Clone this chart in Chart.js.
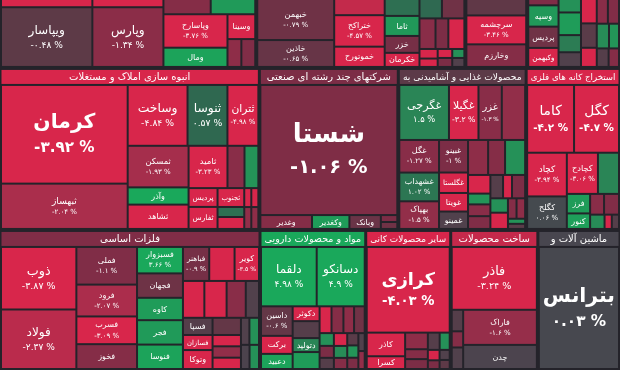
<!DOCTYPE html>
<html lang="fa">
<head>
<meta charset="utf-8">
<title>نقشه بازار</title>
<script src="https://cdn.jsdelivr.net/npm/chart.js@4.4.1/dist/chart.umd.min.js"></script>
<style>
  html, body { margin: 0; padding: 0; background: #24232a; }
  #wrap { width: 620px; height: 370px; }
</style>
</head>
<body>
<div id="wrap"><canvas id="marketMap" width="620" height="370"></canvas></div>
<script>
// sectors (top band is cropped, its headers are not visible)
const sectorNames = ['بانکها و موسسات اعتباری', 'خودرو و ساخت قطعات', 'سیمان، آهک و گچ', 'سرمایه گذاریها',
  'انبوه سازی املاک و مستغلات', 'شرکتهای چند رشته ای صنعتی', 'محصولات غذایی و آشامیدنی به', 'استخراج کانه های فلزی',
  'فلزات اساسی', 'مواد و محصولات دارویی', 'سایر محصولات کانی', 'ساخت محصولات', 'ماشین آلات و'];
const sectorChange = [-1.6, -1.9, -2.0, 0.0, -3.2, -1.0, -0.45, -3.0, -1.1, 3.0, -3.0, -2.6, 0.0];
const sectorSize = [174, 142, 42, 63, 420, 225, 207, 152, 364, 148, 119, 122, 115];

// stocks per sector ('' = name not readable)
const bankTickers = ['', 'ویپاسار', '', 'وپارس', '', '', 'وپاسارح', 'ومال', 'وسینا', '', ''];
const bankChange = [-3.2, -0.48, -3.1, -1.34, -1.2, 2.4, -3.76, 2.8, -3.5, -1.4, -1.1];
const bankSize = [72, 522, 56, 406, 69, 65, 205, 118, 66, 37, 37];

const autoTickers = ['خبهمن', 'خاذین', '', 'ختراکح', 'خموتورح', '', 'ثاما', 'خزر', 'خکرمان', '', '', '', '', '', '', '', '', '', '', ''];
const autoChange = [-0.79, -0.65, -2.56, -4.57, -3.3, 0.79, 2.3, -0.9, -3.5, 0.6, -0.8, -1.3, -1.0, -3.0, -3.2, -3.0, -3.1, -1.0, 2.0, -0.2];
const autoSize = [290, 190, 75, 146, 94, 54, 64, 54, 45, 40, 40, 45, 36, 45, 16, 14, 12, 12, 10, 10];

const cementTickers = ['', 'سرچشمه', 'وخارزم'];
const cementChange = [-0.53, -3.46, -1.21];
const cementSize = [99, 174, 136];

const investTickers = ['', 'وسپه', 'پردیس', 'وکبهمن', '', 'صدبیر', 'سبحان', 'ومهان', '', '', '', '', '', '', '', '', ''];
const investChange = [-1.1, 2.3, -0.8, -3.4, 2.0, 2.5, 1.2, -0.2, -3.0, -0.4, -3.0, -1.3, -1.1, 1.8, 2.2, -0.3, -1.2];
const investSize = [14, 47, 47, 42, 22, 37, 28, 24, 28, 28, 22, 20, 20, 22, 18, 16, 14];

const anbohTickers = ['کرمان', 'ثبهساز', 'وساخت', 'ثنوسا', 'ثتران', 'ثمسکن', 'وآذر', 'ثشاهد', 'ثامید', '', '', 'پردیس', 'ثفارس', 'ثجنوب', '', '', '', '', '', ''];
const anbohChange = [-3.92, -2.04, -4.84, 0.57, -4.98, -1.93, 3.22, -3.33, -3.23, -1.3, 2.1, -3.5, -3.6, -3.5, 0.8, -3.4, -3.5, -3.0, -1.5, -1.4];
const anbohSize = [1215, 558, 354, 236, 183, 246, 102, 144, 160, 70, 57, 53, 62, 49, 26, 31, 13, 13, 15, 15];

const chandTickers = ['شستا', 'وغدیر', 'وکغدیر', 'وبانک', '', ''];
const chandChange = [-1.06, -1.2, 2.5, -0.7, -1.0, -0.8];
const chandSize = [1715, 69, 50, 42, 11, 11];

const ghazaTickers = ['غگرجی', 'غگیلا', 'غزر', 'غبشهر', 'غگل', 'غشهداب', 'بهپاک', 'غبینو', 'غگلستا', 'غویتا', 'غمینو',
  '', '', '', 'غسالم', 'غمهرا', '', '', '', '', '', '', '', '', '', '', ''];
const ghazaChange = [1.5, -3.2, -1.3, -1.5, -1.27, 1.02, -1.5, -1.0, -3.0, -3.2, -0.2,
  -1.4, -1.2, 2.0, -3.0, 2.2, -1.3, -1.1, -0.3, -3.1, -1.0, 2.0, -3.0, -1.2, -1.4, 2.1, -0.4];
const ghazaSize = [249, 148, 117, 117, 118, 104, 100, 86, 54, 49, 46,
  64, 54, 64, 38, 22, 24, 26, 27, 19, 28, 23, 26, 16, 16, 8, 8];

const kaneTickers = ['کاما', 'کگل', 'کچاد', 'کگلح', 'کچادح', 'تجلی', 'فرز', 'کنور', '', '', '', '', ''];
const kaneChange = [-4.2, -4.7, -3.94, 0.06, -3.06, 1.5, 2.5, 2.6, -1.3, -1.1, 1.8, -3.0, -0.3];
const kaneSize = [308, 295, 168, 125, 124, 84, 44, 35, 28, 30, 20, 10, 10];

const felezTickers = ['ذوب', 'فولاد', 'فملی', 'فرود', 'فسرب', 'فخوز', 'فسبزوار', 'فجهان', 'کاوه', 'فجر', 'فنوسا',
  'فباهنر', 'فاسمین', 'کویر', 'توکاح', 'فروس', '', '', 'فسپا', 'فسازان', 'وتوکا', '', '', '', '', '', '', '', ''];
const felezChange = [-3.87, -2.37, -1.1, -2.07, -3.09, -1.2, 3.66, -0.77, 2.5, 2.4, 2.8,
  -0.9, -3.4, -3.5, -3.5, -3.3, -1.3, -0.2, -0.3, -3.5, -3.6, -0.6, -3.0, -1.5, -3.0, -0.2, 2.0, -0.1, 2.0];
const felezSize = [454, 432, 220, 186, 162, 145, 117, 108, 99, 108, 108,
  86, 83, 80, 76, 79, 68, 47, 49, 43, 54, 47, 31, 31, 31, 22, 25, 20, 22];

const daruTickers = ['دلقما', 'دسانکو', 'داسین', 'برکت', 'دعبید', 'دکوثر', 'دزهراوی', 'دتولید',
  '', '', '', '', '', '', '', '', '', '', '', '', '', '', '', ''];
const daruChange = [4.98, 4.9, -0.6, -3.2, 2.8, -3.0, -0.3, 1.5, 2.5, -3.0, -1.2, -1.4,
  -0.8, 2.0, -1.0, -0.3, -3.0, 1.8, -1.2, -0.4, 2.2, -1.0, -0.2, -1.5];
const daruSize = [290, 250, 82, 50, 42, 35, 40, 33, 40, 28, 28, 25, 25, 16, 15, 14, 15, 14, 13, 12, 12, 11, 10, 10];

const kaniTickers = ['کرازی', 'کاذر', 'کسرا', 'کپارس', '', '', '', '', '', '', '', ''];
const kaniChange = [-4.03, -3.03, -3.2, -1.4, -1.2, -1.0, -0.3, 2.0, -3.0, -1.0, -0.2, -0.5];
const kaniSize = [697, 89, 48, 37, 22, 22, 20, 17, 12, 10, 10, 9];

const felezSakhtTickers = ['فاذر', '', '', '', 'فاراک', 'چدن'];
const felezSakhtChange = [-3.24, -0.3, -1.2, -0.2, -1.6, -0.08];
const felezSakhtSize = [521, 24, 18, 24, 252, 173];

const mashinTickers = ['بترانس'];
const mashinChange = [0.03];
const mashinSize = [100];

// ---- layout settings ----
const W = 620, H = 370;
const bandCounts = [4, 4, 5];
const bandHasHeader = [false, true, true];
// strips: c = column on the left, r = row on top, followed by number of stocks in it
const stripSpec = ['c2 c2 r2 c2 r1 r2', 'c2 c3 c4 r2 r3 c2 c2 c2', 'c3', 'c4 c4 c3 r2 r2 r2',
  'c2 r3 c3 r3 c2 c3 r2 r2', 'r1 c1 c1 c1 c2', 'r4 c3 c4 r3 c4 r3 c2 r2 c2', 'r2 c2 r2 c2 r2 c1 c1 c1',
  'c2 c4 c5 r3 r4 c3 c4 r2 r2', 'r2 c3 c4 r4 c3 c3 c3 c2', 'r1 c2 c3 r2 c2 c2', 'r1 c3 c2', 'r1'];

const sectorStocks = [
  [bankTickers, bankChange, bankSize], [autoTickers, autoChange, autoSize],
  [cementTickers, cementChange, cementSize], [investTickers, investChange, investSize],
  [anbohTickers, anbohChange, anbohSize], [chandTickers, chandChange, chandSize],
  [ghazaTickers, ghazaChange, ghazaSize], [kaneTickers, kaneChange, kaneSize],
  [felezTickers, felezChange, felezSize], [daruTickers, daruChange, daruSize],
  [kaniTickers, kaniChange, kaniSize], [felezSakhtTickers, felezSakhtChange, felezSakhtSize],
  [mashinTickers, mashinChange, mashinSize]
];

const colorStops = [[-3, [216, 38, 75]], [-2, [168, 46, 76]], [-1, [124, 45, 70]], [-0.5, [94, 57, 71]],
  [0, [72, 70, 79]], [0.5, [47, 102, 80]], [1.5, [42, 133, 86]], [3, [26, 168, 91]]];

function changeColor(v) {
  const toRgb = c => `rgb(${c[0]},${c[1]},${c[2]})`;
  if (v <= colorStops[0][0]) return toRgb(colorStops[0][1]);
  for (let i = 1; i < colorStops.length; i++) {
    const [b, cb] = colorStops[i];
    if (v <= b) {
      const [a, ca] = colorStops[i - 1];
      const t = (v - a) / (b - a);
      return toRgb(ca.map((c, k) => Math.round(c + (cb[k] - c) * t)));
    }
  }
  return toRgb(colorStops[colorStops.length - 1][1]);
}

const sum = arr => arr.reduce((a, b) => a + b, 0);
const persian = n => String(n).replace(/[0-9]/g, d => '۰۱۲۳۴۵۶۷۸۹'[d]);
const pctText = v => (v < 0 ? '-' : '') + persian(Math.abs(v)) + ' %';

// treemap by strips: each strip takes the share of the remaining rectangle given by its values
function stripLayout(sizes, spec, x0, y0, x1, y1) {
  const rects = [];
  let rest = sum(sizes);
  let i = 0;
  for (const step of spec.split(' ')) {
    const n = +step.slice(1);
    const part = sizes.slice(i, i + n);
    const partSum = sum(part);
    if (step[0] === 'c') {
      const xm = x0 + (x1 - x0) * partSum / rest;
      let yy = y0;
      part.forEach(v => { const h = (y1 - y0) * v / partSum; rects.push([x0, yy, xm, yy + h]); yy += h; });
      x0 = xm;
    } else {
      const ym = y0 + (y1 - y0) * partSum / rest;
      let xx = x0;
      part.forEach(v => { const w = (x1 - x0) * v / partSum; rects.push([xx, y0, xx + w, ym]); xx += w; });
      y0 = ym;
    }
    rest -= partSum;
    i += n;
  }
  return rects;
}

function makePoint(x0, y0, x1, y1, name, change, header) {
  return { x: (x0 + x1) / 2, y: (y0 + y1) / 2, x0, y0, x1, y1, name, change, header };
}

const headerPoints = [];
const cellPoints = [];
(function buildPoints() {
  const total = sum(sectorSize);
  let s0 = 0, by = 0;
  bandCounts.forEach((count, b) => {
    const bandSum = sum(sectorSize.slice(s0, s0 + count));
    const bh = H * bandSum / total;
    let bx = 0;
    for (let s = s0; s < s0 + count; s++) {
      const sw = W * sectorSize[s] / bandSum;
      const [tickers, changes, sizes] = sectorStocks[s];
      let top = by - 1;
      if (bandHasHeader[b]) {
        headerPoints.push(makePoint(bx + 1.5, by + 2, bx + sw - 1.5, by + 16, sectorNames[s], sectorChange[s], true));
        top = by + 17;
      }
      const rects = stripLayout(sizes, stripSpec[s], bx + 1, top, bx + sw - 1, by + bh - 1);
      rects.forEach((r, i) => cellPoints.push(makePoint(r[0] + 1, r[1] + 1, r[2] - 1, r[3] - 1, tickers[i], changes[i], false)));
      bx += sw;
    }
    by += bh;
    s0 += count;
  });
})();

// ---- chart.js element + controller ----
class CellElement extends Chart.Element {
  static id = 'mapCell';
  static defaults = { backgroundColor: '#48464f', textColor: '#ffffff', fontFamily: 'DejaVu Sans' };

  draw(ctx) {
    const { x, y, width: w, height: h, options: o } = this;
    if (!(w > 0 && h > 0)) return;
    ctx.save();
    ctx.fillStyle = o.backgroundColor;
    ctx.fillRect(x, y, w, h);
    if (this.name) {
      ctx.beginPath();
      ctx.rect(x, y, w, h);
      ctx.clip();
      ctx.fillStyle = o.textColor;
      ctx.textAlign = 'center';
      ctx.textBaseline = 'middle';
      if (this.header) this.drawHeader(ctx, o);
      else this.drawLabel(ctx, o);
    }
    ctx.restore();
  }

  drawHeader(ctx, o) {
    const { x, y, width: w, height: h } = this;
    let fs = 10;
    ctx.font = `${fs}px "${o.fontFamily}"`;
    const tw = ctx.measureText(this.name).width;
    if (tw > w - 6) fs = Math.max(8, fs * (w - 6) / tw);
    ctx.font = `${fs}px "${o.fontFamily}"`;
    ctx.fillText(this.name, x + w / 2, y + h / 2 + 0.5);
  }

  drawLabel(ctx, o) {
    const { x, y, width: w, height: h } = this;
    let fs = Math.max(8, Math.min(h * 0.21, 26));
    const weight = () => (fs >= 15 ? 'bold ' : '');
    ctx.font = `${weight()}${fs}px "${o.fontFamily}"`;
    const tw = ctx.measureText(this.name).width;
    if (tw > w - 6) fs = fs * (w - 6) / tw;
    if (fs < 6.5 || h < fs + 2) return;
    const ps = Math.max(7, fs * 0.75);
    const gap = fs * 0.35;
    const cx = x + w / 2, cy = y + h / 2;
    ctx.font = `${weight()}${fs}px "${o.fontFamily}"`;
    if (h >= fs + ps + 8) {
      ctx.fillText(this.name, cx, cy - (ps + gap) / 2);
      let p = ps;
      const txt = pctText(this.change);
      const pb = p >= 10 ? 'bold ' : '';
      ctx.font = `${pb}${p}px "${o.fontFamily}"`;
      const pw = ctx.measureText(txt).width;
      if (pw > w - 4) { p = p * (w - 4) / pw; ctx.font = `${pb}${p}px "${o.fontFamily}"`; }
      ctx.direction = 'ltr';
      ctx.fillText(txt, cx, cy + (fs + gap) / 2);
    } else {
      ctx.fillText(this.name, cx, cy + 0.5);
    }
  }
}

class StripMapController extends Chart.DatasetController {
  static id = 'stripMap';
  static defaults = { datasetElementType: false, dataElementType: 'mapCell' };

  update(mode) {
    const meta = this._cachedMeta;
    this.updateElements(meta.data, 0, meta.data.length, mode);
  }

  updateElements(elements, start, count, mode) {
    const { xScale, yScale } = this._cachedMeta;
    const data = this.getDataset().data;
    for (let i = start; i < start + count; i++) {
      const d = data[i];
      const px0 = xScale.getPixelForValue(d.x0), px1 = xScale.getPixelForValue(d.x1);
      const py0 = yScale.getPixelForValue(d.y0), py1 = yScale.getPixelForValue(d.y1);
      this.updateElement(elements[i], i, {
        x: Math.min(px0, px1), y: Math.min(py0, py1),
        width: Math.abs(px1 - px0), height: Math.abs(py1 - py0),
        name: d.name, change: d.change, header: d.header,
        options: this.resolveDataElementOptions(i, mode)
      }, mode);
    }
  }
}

Chart.register(CellElement, StripMapController);

const fillByChange = c => changeColor(c.raw ? c.raw.change : 0);

new Chart(document.getElementById('marketMap'), {
  type: 'stripMap',
  data: {
    datasets: [
      { label: 'صنایع', data: headerPoints, parsing: false, backgroundColor: fillByChange },
      { label: 'نمادها', data: cellPoints, parsing: false, backgroundColor: fillByChange }
    ]
  },
  options: {
    responsive: false,
    animation: false,
    events: [],
    layout: { padding: 0 },
    plugins: { legend: { display: false }, tooltip: { enabled: false } },
    scales: {
      x: { type: 'linear', min: 0, max: W, display: false },
      y: { type: 'linear', min: 0, max: H, reverse: true, display: false }
    }
  }
});
</script>
</body>
</html>
